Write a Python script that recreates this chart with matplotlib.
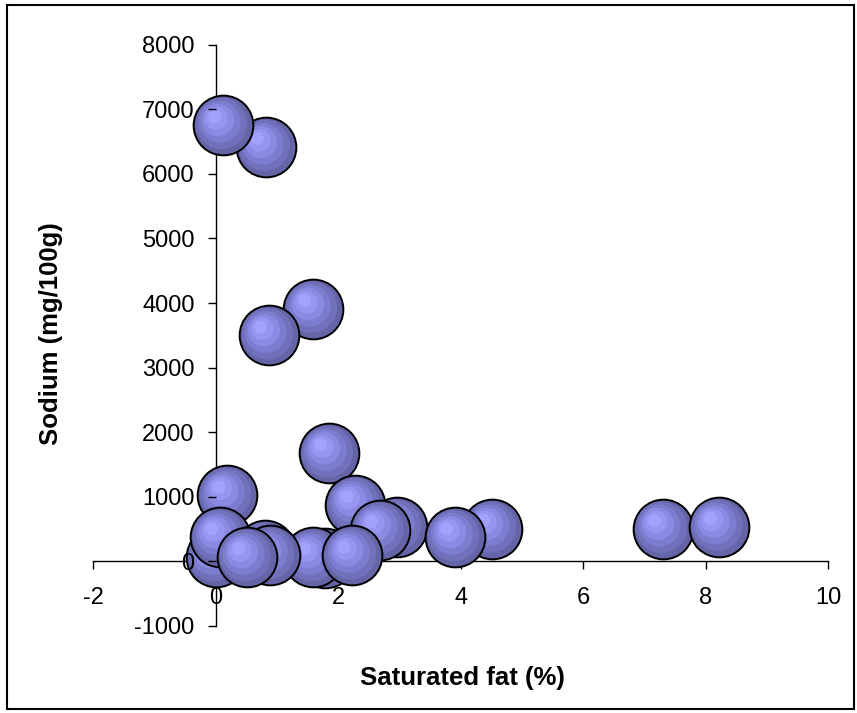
import matplotlib
matplotlib.use("Agg")
import matplotlib.pyplot as plt
from matplotlib.patches import Rectangle
from matplotlib.transforms import ScaledTranslation

plt.rcParams['font.family'] = ['Liberation Sans', 'DejaVu Sans']
plt.rcParams['axes.unicode_minus'] = False

# saturated fat (%) and sodium (mg/100g), listed in drawing order
sat_fat = [0.82, 0.12, 1.59, 0.87, 1.85, 0.19, 2.28, 2.96, 2.68, 4.51, 3.91,
           7.30, 8.21, 0.0, 0.07, 1.79, 1.59, 0.81, 0.89, 0.51, 2.23]
sodium = [6420, 6760, 3910, 3500, 1670, 1020, 870, 530, 480, 500, 370,
          500, 530, 60, 370, 50, 60, 170, 90, 60, 90]

x_ticks = [-2, 0, 2, 4, 6, 8, 10]
y_ticks = [-1000, 0, 1000, 2000, 3000, 4000, 5000, 6000, 7000, 8000]

fig = plt.figure(figsize=(8.57, 7.13), dpi=100)
ax = fig.add_axes([0.1085, 0.1227, 0.858, 0.8142])

# sphere look: stacked circles, lighter and shifted up-left
diam = 43.0  # points
layers = [(1.00, '#6464a6'), (0.86, '#7070bb'), (0.70, '#7d7dd0'),
          (0.54, '#8a8ae2'), (0.38, '#9696f2'), (0.22, '#a2a2fc')]
shift = 6.0 / 72  # inches at smallest layer

z = 3
for xv, yv in zip(sat_fat, sodium):
    for i, (f, col) in enumerate(layers):
        d = (1 - f) / (1 - layers[-1][0]) * shift
        tr = ax.transData + ScaledTranslation(-d, d, fig.dpi_scale_trans)
        ax.scatter([xv], [yv], s=(diam * f) ** 2, color=col,
                   edgecolors='black' if i == 0 else 'none',
                   linewidths=1.4 if i == 0 else 0,
                   transform=tr, zorder=z, clip_on=False)
        z += 1

ax.set_xlim(-2, 10)
ax.set_ylim(-1000, 8000)
ax.set_xticks(x_ticks)
ax.set_yticks(y_ticks)
ax.spines['left'].set_position(('data', 0))
ax.spines['bottom'].set_position(('data', 0))
ax.spines['top'].set_visible(False)
ax.spines['right'].set_visible(False)
for s in ['left', 'bottom']:
    ax.spines[s].set_linewidth(1.0)
    ax.spines[s].set_zorder(1)
ax.tick_params(axis='both', direction='out', length=6, width=1.0,
               labelsize=17)
ax.tick_params(axis='y', pad=9)
ax.tick_params(axis='x', pad=13)
ax.yaxis.set_zorder(500)
ax.set_facecolor('none')

fig.text(462 / 857, 1 - 685 / 713, 'Saturated fat (%)', fontsize=18.5,
         fontweight='bold', ha='center', va='baseline')
fig.text(51 / 857, 1 - 334 / 713, 'Sodium (mg/100g)', fontsize=18.5,
         fontweight='bold', ha='center', va='center', rotation=90)

fig.patches.append(Rectangle((6.5 / 857, 4.5 / 713), 847 / 857, 704 / 713,
                             fill=False, lw=1.5, edgecolor='black',
                             transform=fig.transFigure, figure=fig))

fig.savefig('out.png', dpi=100)
